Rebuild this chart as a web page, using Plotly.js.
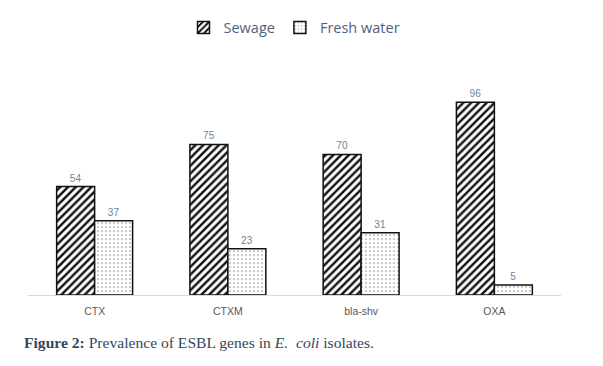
<!DOCTYPE html>
<html>
<head>
<meta charset="utf-8">
<script src="https://cdn.plot.ly/plotly-3.0.1.min.js"></script>
<style>html,body{margin:0;padding:0;background:#fff;}#chart{width:603px;height:366px;}</style>
</head>
<body>
<div id="chart"></div>
<script>
const categories = ["CTX", "CTXM", "bla-shv", "OXA"];
const sewage = [54, 75, 70, 96];
const freshWater = [37, 23, 31, 5];
const seriesNames = ["Sewage", "Fresh water"];

const labelColor = "#6f7f99";
const traces = [
  {
    type: "bar", name: seriesNames[0], x: categories, y: sewage,
    text: sewage.map(String), textposition: "outside", cliponaxis: false,
    textfont: {family: "Liberation Sans, Arial", size: 10, color: labelColor},
    marker: {color: "#ffffff", line: {color: "#111111", width: 1.5},
      pattern: {shape: "/", fgcolor: "#111111", bgcolor: "#ffffff", size: 5.5, solidity: 0.45}}
  },
  {
    type: "bar", name: seriesNames[1], x: categories, y: freshWater,
    text: freshWater.map(String), textposition: "outside", cliponaxis: false,
    textfont: {family: "Liberation Sans, Arial", size: 10, color: labelColor},
    marker: {color: "#ffffff", line: {color: "#111111", width: 1.5},
      pattern: {shape: ".", fgcolor: "#9a9a9a", bgcolor: "#ffffff", size: 4, solidity: 0.15}}
  }
];

const layout = {
  width: 603, height: 366,
  margin: {l: 28, r: 42, t: 15, b: 71},
  paper_bgcolor: "#ffffff", plot_bgcolor: "#ffffff",
  barmode: "group", bargap: 0.43, bargroupgap: 0,
  showlegend: true,
  legend: {orientation: "h", x: 0.5, xanchor: "center", y: 0.962, yanchor: "middle",
    font: {family: "Open Sans, Liberation Sans", size: 14.5, color: "#4f6180"},
    itemwidth: 30, tracegroupgap: 0},
  xaxis: {showline: true, linecolor: "#d9d9d9", linewidth: 1, ticks: "",
    ticklabelstandoff: 6,
    tickfont: {family: "Liberation Sans, Arial", size: 10.5, color: "#595959"},
    showgrid: false, zeroline: false, fixedrange: true},
  yaxis: {range: [0, 138.5], visible: false, showgrid: false, zeroline: false, fixedrange: true},
  annotations: [{
    xref: "paper", yref: "paper", x: -0.012, y: -0.17, xanchor: "left", yanchor: "middle",
    showarrow: false, align: "left",
    text: "<b>Figure 2:</b> Prevalence of ESBL genes in <i>E.  coli</i> isolates.",
    font: {family: "Liberation Serif, DejaVu Serif, serif", size: 15.6, color: "#34475c"}
  }]
};

Plotly.newPlot("chart", traces, layout, {displayModeBar: false, staticPlot: true});
</script>
</body>
</html>
